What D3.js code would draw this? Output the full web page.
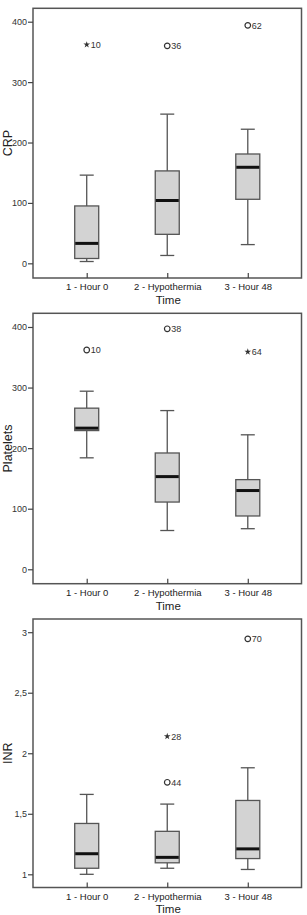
<!DOCTYPE html>
<html>
<head>
<meta charset="utf-8">
<script src="https://cdn.jsdelivr.net/npm/d3@7"></script>
<style>
  body { margin: 0; background: #fff; }
  text { font-family: "Liberation Sans", Arial, sans-serif; }
</style>
</head>
<body>
<div id="chart"></div>
<script>
'use strict';

// categories shared by all three panels
const categories = ['1 - Hour 0', '2 - Hypothermia', '3 - Hour 48'];

// box stats: [whisker low, Q1, median, Q3, whisker high]
const crpStats = [[3, 8, 33, 95, 146], [13, 48, 104, 153, 247], [31, 106, 159, 181, 222]];
const plateletStats = [[184, 229, 233, 266, 294], [64, 111, 153, 192, 262], [67, 88, 130, 148, 222]];
const inrStats = [[1.0, 1.05, 1.17, 1.42, 1.66], [1.05, 1.095, 1.14, 1.355, 1.58], [1.04, 1.13, 1.21, 1.61, 1.88]];

// outliers: category index, value, case label, marker kind
const crpOutliers = [
    { c: 0, v: 362, id: '10', kind: 'star' },
    { c: 1, v: 360, id: '36', kind: 'circle' },
    { c: 2, v: 394, id: '62', kind: 'circle' }
];
const plateletOutliers = [
    { c: 0, v: 362, id: '10', kind: 'circle' },
    { c: 1, v: 397, id: '38', kind: 'circle' },
    { c: 2, v: 359, id: '64', kind: 'star' }
];
const inrOutliers = [
    { c: 1, v: 2.14, id: '28', kind: 'star' },
    { c: 1, v: 1.76, id: '44', kind: 'circle' },
    { c: 2, v: 2.945, id: '70', kind: 'circle' }
];

// tick values
const countTicks = [0, 100, 200, 300, 400];
const inrTicks = [1, 1.5, 2, 2.5, 3];

const W = 307, H = 915;
const left = 33, right = 301.5;

const svg = d3.select('#chart').append('svg')
    .attr('width', W)
    .attr('height', H);

const commaFmt = d3.formatLocale({ decimal: ',', thousands: '.', grouping: [3], currency: ['', ''] }).format('~g');

function drawPanel(top, bottom, yDomain, ticks, tickFmt, stats, outliers, title) {
    const g = svg.append('g');

    const x = d3.scalePoint()
        .domain(categories)
        .range([left, right])
        .padding(0.667);

    const y = d3.scaleLinear()
        .domain(yDomain)
        .range([bottom, top]);

    const boxW = 24;

    // frame
    g.append('rect')
        .attr('x', left)
        .attr('y', top)
        .attr('width', right - left)
        .attr('height', bottom - top)
        .attr('fill', 'none')
        .attr('stroke', '#555')
        .attr('stroke-width', 1.5);

    // y axis
    const yAxis = d3.axisLeft(y).tickValues(ticks).tickFormat(tickFmt).tickSize(5).tickPadding(1);
    const ya = g.append('g').attr('transform', `translate(${left},0)`).call(yAxis);
    ya.select('.domain').remove();
    ya.selectAll('line').attr('stroke', '#444').attr('stroke-width', 1.2);
    ya.selectAll('text').attr('font-size', 9).attr('fill', '#333');

    // x axis
    const xAxis = d3.axisBottom(x).tickSize(5).tickPadding(0.5);
    const xa = g.append('g').attr('transform', `translate(0,${bottom})`).call(xAxis);
    xa.select('.domain').remove();
    xa.selectAll('line').attr('stroke', '#444').attr('stroke-width', 1.2).attr('transform', 'translate(0,-5)');
    xa.selectAll('text').attr('font-size', 9.5).attr('fill', '#222');

    // axis titles
    g.append('text')
        .attr('x', (left + right) / 2 + 1)
        .attr('y', Math.min(bottom + 26, H - 2.5))
        .attr('text-anchor', 'middle')
        .attr('font-size', 11.5)
        .attr('fill', '#222')
        .text('Time');

    g.append('text')
        .attr('transform', `translate(12,${(top + bottom) / 2}) rotate(-90)`)
        .attr('text-anchor', 'middle')
        .attr('font-size', 12.5)
        .attr('fill', '#222')
        .text(title);

    // boxes
    const boxes = g.selectAll('g.box')
        .data(stats)
        .join('g')
        .attr('class', 'box')
        .attr('transform', (d, i) => `translate(${x(categories[i])},0)`);

    // whiskers
    boxes.append('line')
        .attr('x1', 0).attr('x2', 0)
        .attr('y1', d => y(d[0])).attr('y2', d => y(d[1]))
        .attr('stroke', '#555').attr('stroke-width', 1.3);
    boxes.append('line')
        .attr('x1', 0).attr('x2', 0)
        .attr('y1', d => y(d[3])).attr('y2', d => y(d[4]))
        .attr('stroke', '#555').attr('stroke-width', 1.3);
    boxes.selectAll('line.cap')
        .data(d => [d[0], d[4]])
        .join('line')
        .attr('class', 'cap')
        .attr('x1', -boxW / 4 - 1).attr('x2', boxW / 4 + 1)
        .attr('y1', d => y(d)).attr('y2', d => y(d))
        .attr('stroke', '#555').attr('stroke-width', 1.3);

    boxes.append('rect')
        .attr('x', -boxW / 2)
        .attr('y', d => y(d[3]))
        .attr('width', boxW)
        .attr('height', d => y(d[1]) - y(d[3]))
        .attr('fill', '#d3d3d3')
        .attr('stroke', '#555')
        .attr('stroke-width', 1.3);

    boxes.append('line')
        .attr('x1', -boxW / 2 + 0.5).attr('x2', boxW / 2 - 0.5)
        .attr('y1', d => y(d[2])).attr('y2', d => y(d[2]))
        .attr('stroke', '#111').attr('stroke-width', 3);

    // outliers
    const out = g.selectAll('g.out')
        .data(outliers)
        .join('g')
        .attr('class', 'out')
        .attr('transform', d => `translate(${x(categories[d.c])},${y(d.v)})`);

    out.filter(d => d.kind === 'circle')
        .append('circle')
        .attr('r', 2.8)
        .attr('fill', 'none')
        .attr('stroke', '#333')
        .attr('stroke-width', 1.2);

    out.filter(d => d.kind === 'star')
        .append('path')
        .attr('d', d3.symbol(d3.symbolStar, 14))
        .attr('fill', '#333');

    out.append('text')
        .attr('x', 4)
        .attr('y', 3.3)
        .attr('font-size', 9)
        .attr('fill', '#333')
        .text(d => d.id);
}

drawPanel(8.3, 278, [-24.3, 422.2], countTicks, d3.format('d'), crpStats, crpOutliers, 'CRP');
drawPanel(313.3, 583.7, [-23.8, 422.6], countTicks, d3.format('d'), plateletStats, plateletOutliers, 'Platelets');
drawPanel(619, 887.5, [0.891, 3.109], inrTicks, commaFmt, inrStats, inrOutliers, 'INR');
</script>
</body>
</html>
